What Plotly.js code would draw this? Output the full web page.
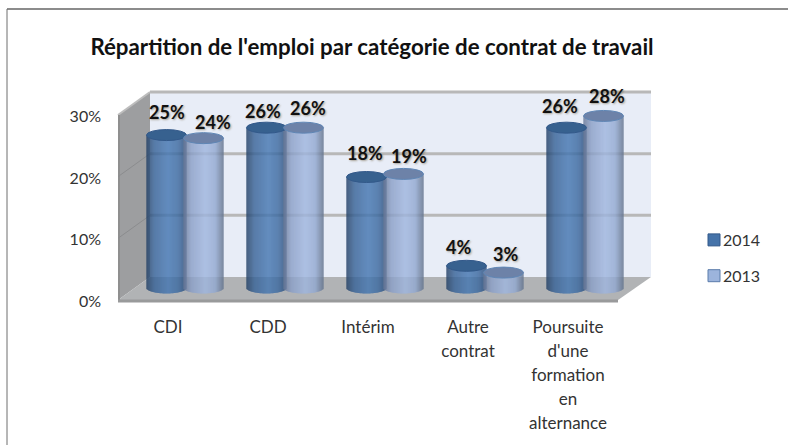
<!DOCTYPE html>
<html>
<head>
<meta charset="utf-8">
<script src="https://cdn.plot.ly/plotly-3.0.1.min.js"></script>
<style>html,body{margin:0;padding:0;background:#fff;overflow:hidden}</style>
</head>
<body>
<div id="chart" style="width:788px;height:445px"></div>
<script>
const titleText = "Répartition de l'emploi par catégorie de contrat de travail";
const categories = ["CDI", "CDD", "Intérim", "Autre<br>contrat", "Poursuite<br>d'une<br>formation<br>en<br>alternance"];
const values2014 = [24.8, 26, 18, 3.6, 26];
const values2013 = [24.3, 26, 18.5, 2.5, 27.9];
const yTicks = [0, 10, 20, 30];
const yTickLabels = ["0%", "10%", "20%", "30%"];

const W = 788, H = 445, FONT = "Lato, Carlito, sans-serif";
const px = x => x / W, py = y => 1 - y / H;
const labelNudge2014 = [[0, -23], [-4, -17], [-2, -24], [-8, -19], [-7, -22]];
const labelNudge2013 = [[9, -16], [4, -20], [5, -18], [2, -19], [3, -20]];
const darkStops = [[-1, "#234064"], [-0.6, "#386296"], [0.1, "#4577b2"], [0.6, "#3c699f"], [1, "#284a76"]];
const lightStops = [[-1, "#677694"], [-0.6, "#8a9fc6"], [0.1, "#a0b6de"], [0.6, "#92a8d0"], [1, "#63738c"]];

const UNIT = 185 / 30, HALF = 0.2, OFF = 0.185, CAP = 5.5 / UNIT, N = 40;
function hex(c) { return [1, 3, 5].map(i => parseInt(c.substr(i, 2), 16)); }
function ramp(stops, u) {
  for (let i = 1; i < stops.length; i++) if (u <= stops[i][0]) {
    const t = (u - stops[i - 1][0]) / (stops[i][0] - stops[i - 1][0]);
    const a = hex(stops[i - 1][1]), b = hex(stops[i][1]);
    return "rgb(" + a.map((v, k) => Math.round(v + (b[k] - v) * t)).join(",") + ")";
  }
  return stops[stops.length - 1][1];
}
function cylinders(name, values, off, stops) {
  const x = [], y = [], base = [], color = [], width = [];
  values.forEach((v, c) => {
    for (let s = 0; s < N; s++) {
      const u = (s + 0.5) / N * 2 - 1;
      const b = -CAP * Math.sqrt(1 - u * u);
      x.push(c + off + u * HALF); base.push(b); y.push(v - b);
      color.push(ramp(stops, u)); width.push(2 * HALF / N * 1.15);
    }
  });
  return { type: "bar", name, x, y, base, width, xaxis: "x2", yaxis: "y2", showlegend: false,
    marker: { color, line: { width: 0 } }, hoverinfo: "skip" };
}
function legendEntry(name, color, line, group) {
  return { type: "bar", name, x: [-10], y: [1], xaxis: "x2", yaxis: "y2", legendgroup: group,
    marker: { color, line: { color: line, width: 1 } }, hoverinfo: "skip" };
}
const traces = [
  { type: "scatter", mode: "none", x: [0, 4], y: [0, 30], xaxis: "x", yaxis: "y", showlegend: false, hoverinfo: "skip" },
  cylinders("2014", values2014, -OFF, darkStops),
  cylinders("2013", values2013, OFF, lightStops),
  legendEntry("2014", "#4573a9", "#33598a", "a"),
  legendEntry("2013", "#9cb4dc", "#5b7cab", "b")
];

function poly(pts, fill, line) {
  return { type: "path", xref: "paper", yref: "paper", layer: "below", fillcolor: fill,
    path: "M" + pts.map(p => px(p[0]) + "," + py(p[1])).join("L") + "Z",
    line: line ? { color: line, width: 1 } : { width: 0 } };
}
function seg(x0, y0, x1, y1, color, w) {
  return { type: "line", xref: "paper", yref: "paper", layer: "below",
    x0: px(x0), x1: px(x1), y0: py(y0), y1: py(y1), line: { color, width: w } };
}
const backY = v => 277 - v * UNIT, frontY = v => 300 - v * UNIT;
const shapes = [
  seg(7, 9, 788, 9, "#8c8c8c", 2),
  seg(7, 9, 7, 445, "#6f6f6f", 1),
  poly([[150, 92], [651, 92], [651, 277], [150, 277]], "#e8edf7"),
  poly([[118, 115], [150, 92], [150, 277], [118, 300]], "#9d9ea0"),
  poly([[118, 300], [150, 277], [651, 277], [618, 300]], "#b1b3b5"),
  seg(150, 92, 651, 92, "#b8b8b8", 3),
  seg(118, 115, 150, 92, "#bdbdbd", 2),
  seg(119, 115, 119, 301, "#8f8f8f", 2),
  seg(118, 301, 618, 301, "#999a9b", 3)
];
yTicks.filter(v => v > 0 && v < 30).forEach(v => {
  shapes.push(seg(150, backY(v), 651, backY(v), "#b8b8b8", 3));
  shapes.push(seg(118, frontY(v), 150, backY(v), "#8b8c8e", 1));
});
function caps(values, off, fill, line) {
  values.forEach((v, c) => shapes.push({ type: "circle", xref: "x2", yref: "y2", layer: "above",
    x0: c + off - HALF, x1: c + off + HALF, y0: v - CAP, y1: v + CAP, fillcolor: fill, line: { color: line, width: 1 } }));
}
caps(values2014, -OFF, "#37618f", "#33598a");
caps(values2013, OFF, "#6d82a8", "#5f86b5");

const annotations = [];
function addLabels(values, off, nudge) {
  values.forEach((v, c) => annotations.push({ x: c + off, y: v, xref: "x2", yref: "y2", showarrow: false,
    text: Math.round(v) + "%", xshift: nudge[c][0], yshift: -nudge[c][1],
    font: { family: FONT, size: 18, color: "#111", weight: 700, shadow: "1px 1px 2px rgba(90,70,30,0.45)" } }));
}
addLabels(values2014, -OFF, labelNudge2014);
addLabels(values2013, OFF, labelNudge2013);

const tickText = categories.map(c => c.split("<br>").map(l => '<span style="font-size:17px">' + l + "</span>").join("<br>"));

const layout = {
  width: W, height: H, margin: { l: 0, r: 0, t: 0, b: 0, pad: 0 },
  paper_bgcolor: "#fff", plot_bgcolor: "rgba(0,0,0,0)", showlegend: true, barmode: "overlay", hovermode: false,
  title: { text: titleText, x: 372 / W, xanchor: "center", y: py(47), yanchor: "middle",
    font: { family: FONT, size: 22.3, weight: 700, color: "#111" } },
  xaxis: { domain: [px(118), px(618)], range: [-0.5, 4.5], tickmode: "array", tickvals: [0, 1, 2, 3, 4], ticktext: tickText,
    tickangle: 0, showgrid: false, zeroline: false, showline: false, ticks: "", ticklabelstandoff: 12, anchor: "y",
    tickfont: { family: FONT, size: 18.5, color: "#333" } },
  yaxis: { domain: [py(301), py(116.5)], range: [0, 30], tickmode: "array", tickvals: yTicks, ticktext: yTickLabels,
    showgrid: false, zeroline: false, showline: false, ticks: "", ticklabelstandoff: 16, anchor: "x",
    tickfont: { family: FONT, size: 16, color: "#333" } },
  xaxis2: { domain: [px(135), px(635)], range: [-0.5, 4.5], visible: false, anchor: "y2" },
  yaxis2: { domain: [py(288 + 3 * UNIT), py(288 - 30 * UNIT)], range: [-3, 30], visible: false, anchor: "x2" },
  legend: { x: px(694), y: py(223), xanchor: "left", yanchor: "top", tracegroupgap: 12, traceorder: "grouped",
    bgcolor: "rgba(0,0,0,0)", font: { family: FONT, size: 16, color: "#333" } },
  shapes, annotations
};
Plotly.newPlot("chart", traces, layout, { displayModeBar: false, staticPlot: true }).then(() => {
  document.querySelectorAll("#chart .legendtext").forEach(t => t.setAttribute("x", 29));
});
</script>
</body>
</html>
